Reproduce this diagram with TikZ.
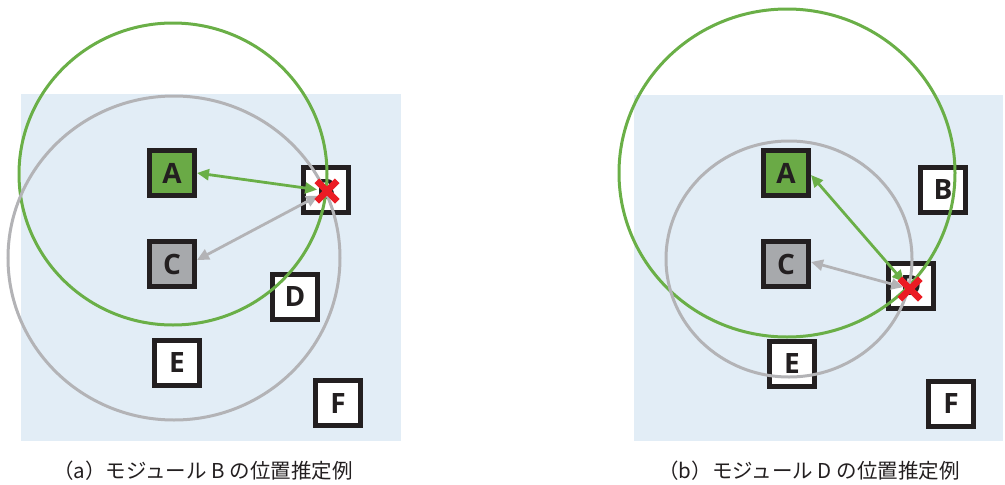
\documentclass[tikz,border=0pt]{standalone}
\usepackage{fontspec}
\setmainfont{Open Sans}
\newfontfamily\jpfont{Noto Sans CJK JP}
\usetikzlibrary{arrows.meta,shapes.misc}
\definecolor{bgblue}{HTML}{E2EDF6}
\definecolor{boxline}{HTML}{231F20}
\definecolor{modgreen}{HTML}{6AAA46}
\definecolor{modgray}{HTML}{A7A9AC}
\definecolor{ringgreen}{HTML}{6AAF47}
\definecolor{ringgray}{HTML}{B3B3B6}
\definecolor{xred}{HTML}{EB1C24}
\definecolor{captxt}{HTML}{231F20}
\begin{document}
\begin{tikzpicture}[x=1pt,y=-1pt,
  panel/.style={fill=bgblue, draw=none},
  mod/.style={draw=boxline, line width=5pt, minimum size=45pt, inner sep=0pt,
    fill=white, text=boxline, font=\fontsize{28}{28}\selectfont\bfseries},
  modA/.style={mod, fill=modgreen},
  modC/.style={mod, fill=modgray},
  gring/.style={draw=ringgreen, line width=3pt},
  rring/.style={draw=ringgray, line width=3pt},
  garr/.style={draw=ringgreen, line width=2.8pt,
    {Triangle[length=12pt,width=11pt]}-{Triangle[length=12pt,width=11pt]}},
  rarr/.style={draw=ringgray, line width=2.8pt,
    {Triangle[length=12pt,width=11pt]}-{Triangle[length=12pt,width=11pt]}},
  redx/.style={cross out, draw=xred, line width=6.5pt, minimum size=14pt, inner sep=0pt},
  caption/.style={font=\jpfont\fontsize{20.5}{21}\selectfont, text=captxt}]
\useasboundingbox (0,0) rectangle (1005,485);

% panels
\fill[panel] (21,94) rectangle (401,441);
\fill[panel] (634,95) rectangle (1003,441);

% panel (a) modules
\node[modA] (Aa) at (172,173) {A};
\node[mod]  (Ba) at (326,190) {B};
\node[modC] (Ca) at (172,264) {C};
\node[mod]  (Da) at (295,297) {D};
\node[mod]  (Ea) at (177,363) {E};
\node[mod]  (Fa) at (338,403) {F};

% panel (b) modules
\node[modA] (Ab) at (786,173) {A};
\node[mod]  (Bb) at (943,190) {B};
\node[modC] (Cb) at (786,264) {C};
\node[mod]  (Db) at (911,286) {D};
\node[mod]  (Eb) at (792,364) {E};
\node[mod]  (Fb) at (951,404) {F};

% range rings
\draw[gring] (173,174) ellipse [x radius=154pt, y radius=151pt];
\draw[rring] (174,258) ellipse [x radius=166pt, y radius=162pt];
\draw[gring] (787,173) ellipse [x radius=168pt, y radius=164pt];
\draw[rring] (789,259) ellipse [x radius=123pt, y radius=118pt];

% estimated positions
\coordinate (xa) at (327,191);
\coordinate (xb) at (910,289);

% arrows
\draw[garr, shorten >=10pt] (Aa.east) -- (xa);
\draw[rarr, shorten >=10pt] ([yshift=4pt]Ca.east) -- (xa);
\draw[garr, shorten >=9pt] ([yshift=-2pt]Ab.east) -- (xb);
\draw[rarr, shorten >=7pt] ([yshift=2pt]Cb.east) -- (xb);

% crosses
\node[redx] (Xa) at (xa) {};
\node[redx] (Xb) at (xb) {};

% captions
\node[caption] (capa) at (203,471) {（a）モジュール B の位置推定例};
\node[caption] (capb) at (809,471) {（b）モジュール D の位置推定例};
\end{tikzpicture}
\end{document}
